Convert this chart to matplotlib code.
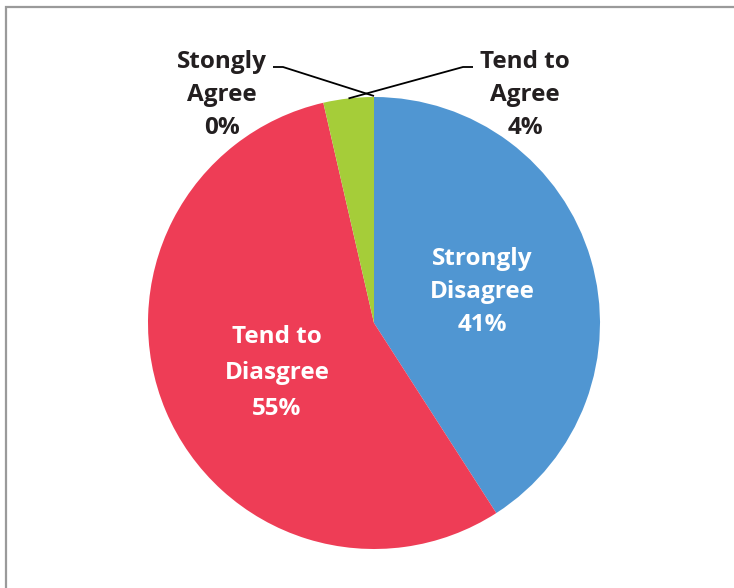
import numpy as np
import matplotlib
matplotlib.use("Agg")
import matplotlib.pyplot as plt
from matplotlib.patches import Rectangle

categories = ["Strongly\nDisagree", "Tend to\nDiasgree", "Tend to\nAgree", "Stongly\nAgree"]
values = [40.9, 55.5, 3.6, 0.0]
pct_labels = ["41%", "55%", "4%", "0%"]
colors = ["#5096D2", "#EE3D56", "#A5CD39", "#7F7F7F"]

W, H = 734, 588
fig = plt.figure(figsize=(W / 100, H / 100), dpi=100)
ax = fig.add_axes([0, 0, 1, 1])
ax.set_xlim(0, W)
ax.set_ylim(0, H)
ax.set_aspect("equal")
ax.axis("off")

# frame
ax.add_patch(Rectangle((5.5, -20), W + 20, H - 7 + 20, fill=False,
                       edgecolor="#9a9a9a", linewidth=1.6, zorder=0))

cx, cy, r = 374, H - 323, 226
wedges, _ = ax.pie(values, colors=colors, startangle=90, counterclock=False,
                   center=(cx, cy), radius=r, frame=True,
                   wedgeprops=dict(linewidth=0))
ax.set_xlim(0, W)
ax.set_ylim(0, H)
ax.axis("off")

font = dict(family=["Open Sans", "DejaVu Sans"], fontweight="bold", fontsize=17.5)

def txt(x, y, s, color, spacing):
    ax.text(x, H - y, s, ha="center", va="center", color=color,
            linespacing=spacing, **font)

# inside labels
txt(482, 292, categories[0] + "\n" + pct_labels[0], "white", 1.52)
txt(277, 373, categories[1] + "\n" + pct_labels[1], "white", 1.68)
# outside labels
dark = "#231F20"
txt(525, 95, categories[2] + "\n" + pct_labels[2], dark, 1.48)
txt(222, 95, categories[3] + "\n" + pct_labels[3], dark, 1.48)

# leader lines from wedge mid-angles
def edge_point(w):
    ang = np.deg2rad((w.theta1 + w.theta2) / 2)
    return cx + r * np.cos(ang), cy + r * np.sin(ang)

x2, y2 = edge_point(wedges[2])
ax.plot([x2, 463, 473], [y2, H - 67, H - 67], color="black", lw=1.3,
        solid_capstyle="butt")
x3, y3 = edge_point(wedges[3])
ax.plot([273, 283, x3], [H - 67, H - 67, y3 + 1], color="black", lw=1.3,
        solid_capstyle="butt")

fig.savefig("out.png", dpi=100, facecolor="white")
